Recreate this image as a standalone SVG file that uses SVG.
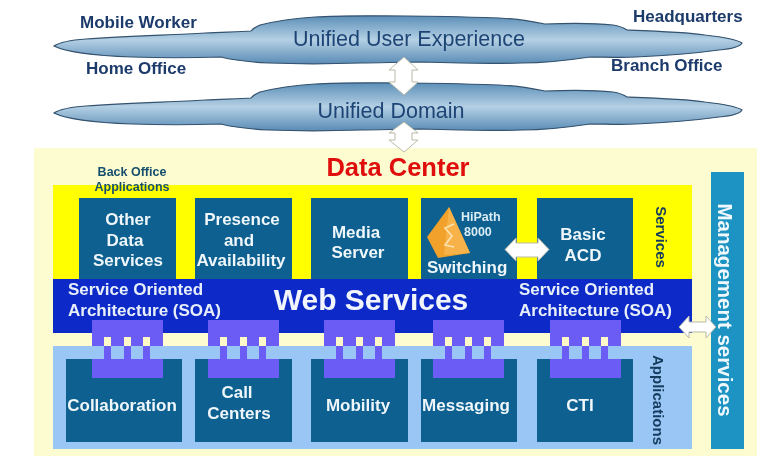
<svg xmlns="http://www.w3.org/2000/svg" xmlns:xlink="http://www.w3.org/1999/xlink" width="768" height="459" viewBox="0 0 768 459">
<style>
text{font-family:"Liberation Sans",Arial,sans-serif;font-weight:bold}
.c{text-anchor:middle}
.box{fill:#07608f}
.w{fill:#f0f6fa;font-size:17px}
.soa{fill:#e8eefa;font-size:17px}
.site{fill:#1b3a6b;font-size:17px}
.cl{fill:#1f4576;font-size:21.500px;font-weight:normal;text-anchor:middle}
.side{fill:#123a5c;font-size:15px;text-anchor:middle}
.arr{fill:#fff;stroke:#b9b9a8;stroke-width:1}
.link{fill:#6a5cf5}
.notch{fill:#fdf8c8}
</style>
<defs>
<filter id="soft" x="0" y="0" width="100%" height="100%"><feGaussianBlur stdDeviation="0.4"/></filter>
<linearGradient id="cg" x1="0" y1="0" x2="0" y2="1">
<stop offset="0" stop-color="#5c8fb8"/><stop offset="0.5" stop-color="#b4d0e4"/><stop offset="1" stop-color="#5a8cb6"/>
</linearGradient>
<path id="cloud" d="M54 46C60 42 72 40 86 39C125 36 170 35 205 33C225 32 240 32 251 31C253 28 256 27 260 25C280 20 300 18 315 17C345 15 380 16 407 16C440 16 470 17 499 18C520 19 535 22 545 24C570 23 595 23 613 25C620 26 624 28 627 30C655 31 685 32 705 35C722 37 736 39 742 43C740 47 730 49 719 50C690 54 660 56 636 57C620 58 605 57 590 57C570 60 545 63 522 63C490 64 450 63 421 62C400 62 380 63 361 63C330 64 295 64 269 63C250 62 232 60 221 57C190 58 160 58 132 57C105 56 70 54 54 46Z"/>
<g id="linkShape">
<path class="link" d="M0 0H71V26H0Z"/>
<path class="notch" d="M12 17H19V26H12ZM32 17H39V26H32ZM51 17H58V26H51Z"/>
<path class="link" d="M12 26H19V39H12ZM32 26H39V39H32ZM51 26H58V39H51ZM0 39H71V58H0Z"/>
</g>
</defs>
<rect id="background" width="768" height="459" fill="#fff"/>
<g filter="url(#soft)">
<rect id="dataCenterPanel" x="34" y="148" width="723" height="308" fill="#fdfbd0"/>
<g id="cloud-user"><use xlink:href="#cloud" href="#cloud" fill="url(#cg)" stroke="#34526e" stroke-width="1.2"/><text class="cl" x="409" y="46">Unified User Experience</text></g>
<g id="cloud-domain"><use xlink:href="#cloud" href="#cloud" y="67" fill="url(#cg)" stroke="#34526e" stroke-width="1.2"/><text class="cl" x="391" y="118">Unified Domain</text></g>
<g id="sites">
<text class="site" x="80" y="28">Mobile Worker</text>
<text class="site" x="633" y="22">Headquarters</text>
<text class="site" x="86" y="74">Home Office</text>
<text class="site" x="611" y="71">Branch Office</text>
</g>
<text id="dataCenterTitle" class="c" x="398" y="176" fill="#e01010" font-size="25.500">Data Center</text>
<rect id="servicesBand" x="53" y="185" width="639" height="94" fill="#ffff00"/>
<g id="applicationsBand"><rect x="53" y="346" width="639" height="103" fill="#99c6f5"/></g>
<g id="backOffice"><text class="c" x="132" y="176" fill="#17506e" font-size="12.500">Back Office</text><text class="c" x="132" y="191" fill="#17506e" font-size="12.500">Applications</text></g>
<g id="otherData"><rect class="box" x="79" y="198" width="97" height="81"/><text class="w c" x="128" y="225">Other</text><text class="w c" x="125" y="246">Data</text><text class="w c" x="128" y="266">Services</text></g>
<g id="presence"><rect class="box" x="195" y="198" width="97" height="81"/><text class="w c" x="242" y="225">Presence</text><text class="w c" x="239" y="246">and</text><text class="w c" x="241" y="266">Availability</text></g>
<g id="media"><rect class="box" x="311" y="198" width="97" height="81"/><text class="w c" x="356" y="238">Media</text><text class="w c" x="358" y="258">Server</text></g>
<g id="switching"><rect class="box" x="421" y="198" width="96" height="81"/>
<path d="M449 207L427 237L438 258L470 253Z" fill="#f2a12c"/><path d="M449 207L444 255L470 253Z" fill="#f7b348"/>
<path d="M454 224L445 228L452 236L445 245L454 247" fill="none" stroke="#fde3b0" stroke-width="1.6"/>
<text x="461" y="221" fill="#dcecf5" font-size="12.500">HiPath</text><text x="464" y="236" fill="#dcecf5" font-size="12.500">8000</text>
<text class="w" x="427" y="273">Switching</text></g>
<g id="basicAcd"><rect class="box" x="537" y="198" width="96" height="81"/><text class="w c" x="583" y="240">Basic</text><text class="w c" x="583" y="261">ACD</text></g>
<text id="servicesLabel" class="side" transform="translate(656,237) rotate(90)">Services</text>
<g id="soaBand"><rect x="53" y="279" width="639" height="54" fill="#0a2cc8"/>
<text class="soa" x="68" y="295">Service Oriented</text><text class="soa" x="68" y="316">Architecture (SOA)</text>
<text class="c" x="371" y="310" fill="#f2f5fc" font-size="30">Web Services</text>
<text class="soa" x="519" y="295">Service Oriented</text><text class="soa" x="519" y="316">Architecture (SOA)</text></g>
<g id="collaboration"><rect class="box" x="66" y="359" width="116" height="83"/><text class="w c" x="122" y="411">Collaboration</text></g>
<g id="callCenters"><rect class="box" x="195" y="359" width="97" height="83"/><text class="w c" x="237" y="398">Call</text><text class="w c" x="239" y="419">Centers</text></g>
<g id="mobility"><rect class="box" x="311" y="359" width="97" height="83"/><text class="w c" x="358" y="411">Mobility</text></g>
<g id="messaging"><rect class="box" x="421" y="359" width="96" height="83"/><text class="w c" x="466" y="411">Messaging</text></g>
<g id="cti"><rect class="box" x="537" y="359" width="96" height="83"/><text class="w c" x="580" y="411">CTI</text></g>
<text id="applicationsLabel" class="side" transform="translate(653,400) rotate(90)">Applications</text>
<g id="connectors">
<use xlink:href="#linkShape" href="#linkShape" x="92" y="320"/>
<use xlink:href="#linkShape" href="#linkShape" x="208" y="320"/>
<use xlink:href="#linkShape" href="#linkShape" x="324" y="320"/>
<use xlink:href="#linkShape" href="#linkShape" x="433" y="320"/>
<use xlink:href="#linkShape" href="#linkShape" x="550" y="320"/>
<path class="arr" d="M404 57L418 70H412V82L418 82L404 95L389 82H395V70H389Z"/>
<path class="arr" d="M404 122L418 133H412V140H418L404 152L389 140H395V133H389Z"/>
</g>
<g id="management"><rect x="711" y="172" width="33" height="277" fill="#1a93c2"/>
<text class="c" transform="translate(718,310) rotate(90)" fill="#f0f8fb" font-size="20.500">Management services</text></g>
<g id="biArrows">
<path class="arr" d="M505 249.500L516 238V243H538V238L549 249.500L538 261V257H516V261Z" stroke="none"/>
<path class="arr" d="M679 327L689 316V322H706V316L716 327L706 338V332H689V338Z"/>
</g>
</g>
</svg>
